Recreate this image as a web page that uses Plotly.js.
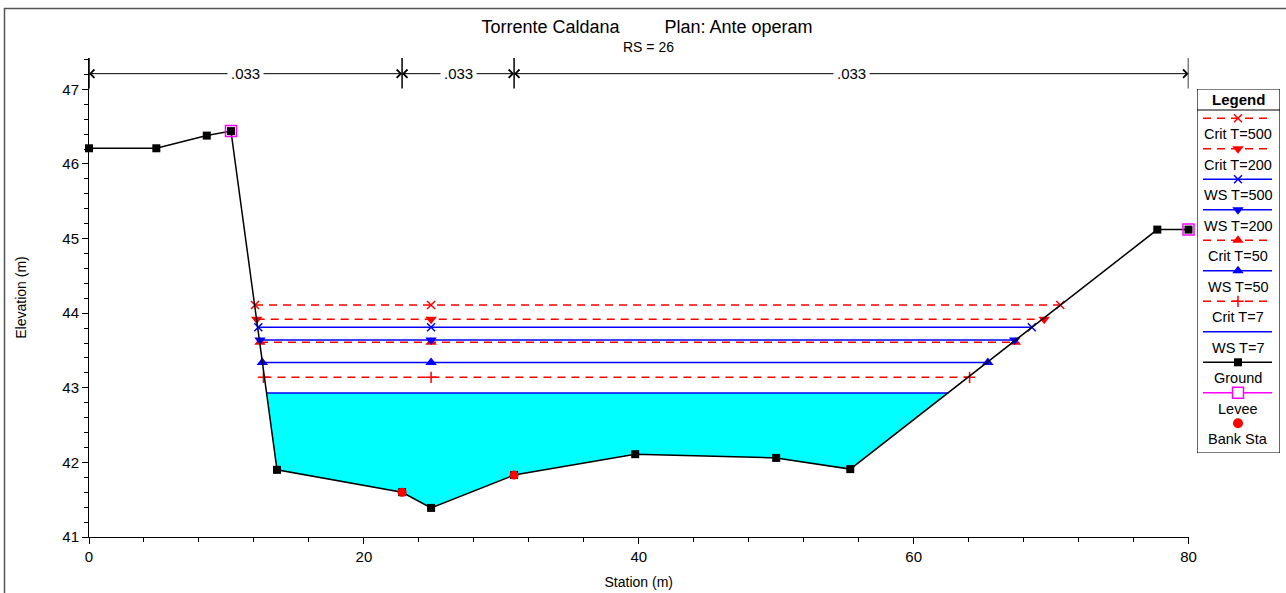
<!DOCTYPE html>
<html>
<head>
<meta charset="utf-8">
<script src="https://cdn.plot.ly/plotly-3.0.1.min.js"></script>
<style>html,body{margin:0;padding:0;background:#fff;}#chart{width:1286px;height:593px;}</style>
</head>
<body>
<div id="chart"></div>
<script>
// ---------- data ----------
const groundStation = [0, 4.9, 8.57, 10.33, 13.68, 22.78, 24.89, 30.93, 39.74, 50.0, 55.39, 77.73, 80.0];
const groundElev    = [46.21, 46.21, 46.38, 46.44, 41.90, 41.60, 41.39, 41.83, 42.11, 42.06, 41.91, 45.12, 45.12];
const leveeStation  = [10.33, 80.0];
const leveeElev     = [46.44, 45.12];
const bankStation   = [22.78, 30.93];
const bankElev      = [41.60, 41.83];

const profileNames  = ['Crit T=500', 'Crit T=200', 'WS T=500', 'WS T=200', 'Crit T=50', 'WS T=50', 'Crit T=7', 'WS T=7'];
const profileElev   = [44.11, 43.92, 43.81, 43.64, 43.61, 43.34, 43.14, 42.93];
const profileLeft   = [12.08, 12.20, 12.32, 12.44, 12.44, 12.61, 12.69, 12.93];
const profileRight  = [70.67, 69.50, 68.60, 67.35, 67.40, 65.40, 64.07, 62.54];
const profileMid    = 24.89;

const nBoundaries   = [0, 22.78, 30.93, 80];
const nValues       = ['.033', '.033', '.033'];
const nRowElev      = 47.21;

// ---------- styles ----------
const FONT = 'Liberation Sans, Arial, Helvetica, sans-serif';
const RED = '#ff0000', BLUE = '#0000ff';
const profileStyle = {
  'Crit T=500': {color: RED,  dash: '8px,6px', symbol: 'x-thin-open'},
  'Crit T=200': {color: RED,  dash: '8px,6px', symbol: 'triangle-down'},
  'WS T=500':   {color: BLUE, dash: 'solid',   symbol: 'x-thin-open'},
  'WS T=200':   {color: BLUE, dash: 'solid',   symbol: 'triangle-down'},
  'Crit T=50':  {color: RED,  dash: '8px,6px', symbol: 'triangle-up'},
  'WS T=50':    {color: BLUE, dash: 'solid',   symbol: 'triangle-up'},
  'Crit T=7':   {color: RED,  dash: '8px,6px', symbol: 'cross-thin-open'},
  'WS T=7':     {color: BLUE, dash: 'solid',   symbol: null}
};
function markerFor(st) {
  if (!st.symbol) return {size: 0, opacity: 0};
  const thin = st.symbol.indexOf('thin') >= 0;
  return {symbol: st.symbol, size: thin ? 8 : 10, color: st.color,
          line: {color: st.color, width: thin ? 1.5 : 0}};
}

const traces = [];

// water fill under the lowest water surface (WS T=7)
const wsIdx = profileNames.indexOf('WS T=7');
const fx = [profileLeft[wsIdx]], fy = [profileElev[wsIdx]];
groundStation.forEach((s, i) => {
  if (s > profileLeft[wsIdx] && s < profileRight[wsIdx]) { fx.push(s); fy.push(groundElev[i]); }
});
fx.push(profileRight[wsIdx]); fy.push(profileElev[wsIdx]);
traces.push({x: fx, y: fy, mode: 'lines', fill: 'toself', fillcolor: '#00ffff',
  line: {width: 0, color: '#00ffff'}, hoverinfo: 'skip', showlegend: false});

// water surface / critical lines (draw lowest first)
for (let i = profileNames.length - 1; i >= 0; i--) {
  const st = profileStyle[profileNames[i]];
  traces.push({
    x: [profileLeft[i], profileMid, profileRight[i]],
    y: [profileElev[i], profileElev[i], profileElev[i]],
    mode: st.symbol ? 'lines+markers' : 'lines',
    line: {color: st.color, width: 1.5, dash: st.dash},
    marker: markerFor(st), name: profileNames[i], hoverinfo: 'skip', showlegend: false
  });
}

// ground
traces.push({x: groundStation, y: groundElev, mode: 'lines+markers',
  line: {color: '#000', width: 1.5}, marker: {symbol: 'square', size: 8, color: '#000'},
  name: 'Ground', hoverinfo: 'skip', showlegend: false, cliponaxis: false});
// levees
traces.push({x: leveeStation, y: leveeElev, mode: 'markers',
  marker: {symbol: 'square-open', size: 11, color: '#ff00ff', line: {width: 1.5, color: '#ff00ff'}},
  name: 'Levee', hoverinfo: 'skip', showlegend: false, cliponaxis: false});
// bank stations
traces.push({x: bankStation, y: bankElev, mode: 'markers',
  marker: {symbol: 'circle', size: 9, color: RED},
  name: 'Bank Sta', hoverinfo: 'skip', showlegend: false});

// ---------- custom legend (drawn in a pixel-like hidden axis) ----------
const legendItems = profileNames.concat(['Ground', 'Levee', 'Bank Sta']);
const legSample0 = 118.3, legStep = 30.5, legText0 = 134;
const legX0 = 1203, legX1 = 1272, legXc = 1238;
const annotations = [];
legendItems.forEach((name, i) => {
  const ys = legSample0 + i * legStep;
  let line = null, marker = null;
  if (profileStyle[name]) {
    const st = profileStyle[name];
    line = {color: st.color, width: 1.5, dash: st.dash};
    marker = markerFor(st);
  } else if (name === 'Ground') {
    line = {color: '#000', width: 1.5}; marker = {symbol: 'square', size: 8, color: '#000'};
  } else if (name === 'Levee') {
    line = {color: '#ff00ff', width: 1.5};
    marker = {symbol: 'square', size: 11, color: '#fff', line: {width: 1.5, color: '#ff00ff'}};
  } else {
    marker = {symbol: 'circle', size: 10, color: RED};
  }
  if (line) {
    traces.push({x: [legX0, legX1], y: [ys, ys], mode: 'lines', line: line,
      xaxis: 'x2', yaxis: 'y2', hoverinfo: 'skip', showlegend: false});
  }
  if (marker && marker.symbol) {
    traces.push({x: [legXc], y: [ys], mode: 'markers', marker: marker,
      xaxis: 'x2', yaxis: 'y2', hoverinfo: 'skip', showlegend: false, cliponaxis: false});
  }
  annotations.push({xref: 'x2', yref: 'y2', x: legXc, y: legText0 + i * legStep,
    text: name, showarrow: false, xanchor: 'center', yanchor: 'middle',
    font: {family: FONT, size: 14.5, color: '#000'}});
});
annotations.push({xref: 'x2', yref: 'y2', x: legXc, y: 99.5, text: '<b>Legend</b>',
  showarrow: false, xanchor: 'center', yanchor: 'middle', font: {family: FONT, size: 15, color: '#000'}});

// ---------- Manning's n row ----------
const shapes = [];
nBoundaries.forEach(b => {
  shapes.push({type: 'line', xref: 'x', yref: 'y', x0: b, x1: b, y0: 47.01, y1: 47.42,
    line: {color: '#000', width: 1.5}});
});
for (let i = 0; i < nValues.length; i++) {
  const a = nBoundaries[i], b = nBoundaries[i + 1], mid = (a + b) / 2;
  [a, b].forEach(end => {
    annotations.push({xref: 'x', yref: 'y', axref: 'x', ayref: 'y', x: end, y: nRowElev,
      ax: mid, ay: nRowElev, text: '', showarrow: true, arrowhead: 4, arrowsize: 1.6,
      arrowwidth: 1, arrowcolor: '#000'});
  });
}
for (let i = 0; i < nValues.length; i++) {
  const mid = (nBoundaries[i] + nBoundaries[i + 1]) / 2;
  annotations.push({xref: 'x', yref: 'y', x: mid, y: nRowElev, text: nValues[i], showarrow: false,
    bgcolor: '#fff', borderpad: 3, xanchor: 'center', yanchor: 'middle',
    font: {family: FONT, size: 15, color: '#000'}});
}

// subtitle
annotations.push({xref: 'paper', yref: 'paper', x: (648 - 89) / 1191, y: (537 - 47) / 479,
  text: 'RS = 26', showarrow: false, xanchor: 'center', yanchor: 'middle',
  font: {family: FONT, size: 14, color: '#000'}});

// legend box + header separator
shapes.push({type: 'rect', xref: 'x2', yref: 'y2', x0: 1197, x1: 1280, y0: 89, y1: 453,
  line: {color: '#000', width: 1.2}, layer: 'below', fillcolor: '#fff'});
shapes.push({type: 'line', xref: 'x2', yref: 'y2', x0: 1197, x1: 1280, y0: 110, y1: 110,
  line: {color: '#000', width: 1.2}});
// outer frame
shapes.push({type: 'rect', xref: 'paper', yref: 'paper',
  x0: (4.5 - 89) / 1191, x1: (1295 - 89) / 1191, y0: (537 - 610) / 479, y1: (537 - 8.5) / 479,
  line: {color: '#555', width: 1.5}});

const axisCommon = {
  showline: true, linecolor: '#000', linewidth: 1, ticks: 'outside', tickcolor: '#000',
  ticklen: 6, showgrid: false, zeroline: false, fixedrange: true,
  tickfont: {family: FONT, size: 15, color: '#000'}
};

const layout = {
  width: 1286, height: 593,
  margin: {l: 89, r: 6, t: 58, b: 56, pad: 0},
  paper_bgcolor: '#fff', plot_bgcolor: '#fff',
  showlegend: false,
  title: {text: 'Torrente Caldana' + '&nbsp;'.repeat(9) + 'Plan: Ante operam',
    font: {family: FONT, size: 18, color: '#000'},
    xref: 'paper', x: (647 - 89) / 1191, xanchor: 'center',
    yref: 'container', y: 1 - 27 / 593, yanchor: 'middle'},
  xaxis: Object.assign({}, axisCommon, {
    domain: [0, 1099.5 / 1191], range: [0, 80], tick0: 0, dtick: 20,
    minor: {ticks: 'outside', dtick: 4, ticklen: 4, tickcolor: '#000', showgrid: false},
    title: {text: 'Station (m)', font: {family: FONT, size: 14, color: '#000'}, standoff: 13}
  }),
  yaxis: Object.assign({}, axisCommon, {
    domain: [0, 1], range: [41, 47.42], tick0: 41, dtick: 1,
    minor: {ticks: 'outside', dtick: 0.2, ticklen: 4, tickcolor: '#000', showgrid: false},
    title: {text: 'Elevation (m)', font: {family: FONT, size: 14, color: '#000'}, standoff: 32}
  }),
  xaxis2: {domain: [(1197 - 89) / 1191, 1], range: [1197, 1280], visible: false,
    anchor: 'y2', fixedrange: true},
  yaxis2: {domain: [(537 - 453) / 479, (537 - 89) / 479], range: [453, 89], visible: false,
    anchor: 'x2', fixedrange: true},
  shapes: shapes,
  annotations: annotations
};

Plotly.newPlot('chart', traces, layout, {displayModeBar: false, staticPlot: true});
</script>
</body>
</html>
